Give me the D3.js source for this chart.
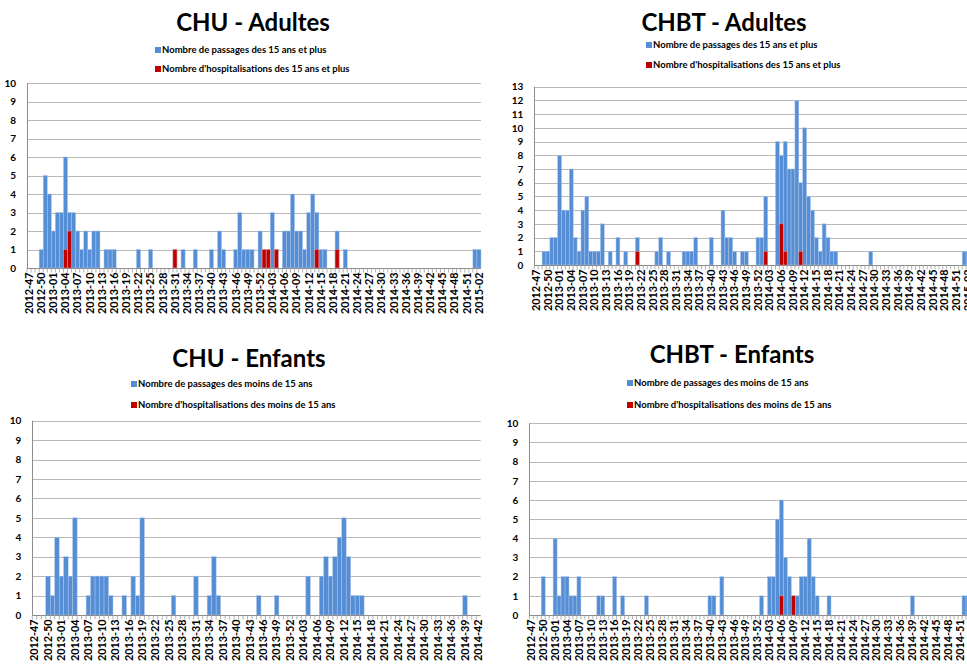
<!DOCTYPE html>
<html><head><meta charset="utf-8">
<script src="https://cdn.jsdelivr.net/npm/d3@7/dist/d3.min.js"></script>
<style>html,body{margin:0;padding:0;background:#fff;overflow:hidden}</style>
</head><body>
<svg id="c" width="967" height="666"></svg>
<script>
// ---------- DATA ----------
// Weekly categories (ISO year-week)
function weekRange(y0, w0, y1, w1) {
  const out = [];
  let y = y0, w = w0;
  while (y < y1 || (y === y1 && w <= w1)) {
    out.push(y + "-" + String(w).padStart(2, "0"));
    w++; if (w > 52) { w = 1; y++; }
  }
  return out;
}
const weeksAdultes = weekRange(2012, 47, 2015, 2);   // 112 weeks
const weeksCHUEnfants = weekRange(2012, 47, 2014, 42); // 100 weeks
const weeksCHBTEnfants = weekRange(2012, 47, 2015, 2); // 112 weeks

const legendAdultes = ["Nombre de passages des 15 ans et plus", "Nombre d'hospitalisations des 15 ans et plus"];
const legendEnfants = ["Nombre de passages des moins de 15 ans", "Nombre d'hospitalisations des moins de 15 ans"];

const chuAdultesPassages = [
  0,0,0,1,5,4,2,3,3,6,
  3,3,2,1,2,1,2,2,0,1,
  1,1,0,0,0,0,0,1,0,0,
  1,0,0,0,0,0,1,0,1,0,
  0,1,0,0,0,1,0,2,1,0,
  0,1,3,1,1,1,0,2,1,1,
  3,1,0,2,2,4,2,2,1,3,
  4,3,1,1,0,0,2,0,1,0,
  0,0,0,0,0,0,0,0,0,0,
  0,0,0,0,0,0,0,0,0,0,
  0,0,0,0,0,0,0,0,0,0,
  1,1];
const chuAdultesHosp = [
  0,0,0,0,0,0,0,0,0,1,
  2,0,0,0,0,0,0,0,0,0,
  0,0,0,0,0,0,0,0,0,0,
  0,0,0,0,0,0,1,0,0,0,
  0,0,0,0,0,0,0,0,0,0,
  0,0,0,0,0,0,0,0,1,1,
  0,1,0,0,0,0,0,0,0,0,
  0,1,0,0,0,0,1,0,0,0,
  0,0,0,0,0,0,0,0,0,0,
  0,0,0,0,0,0,0,0,0,0,
  0,0,0,0,0,0,0,0,0,0,
  0,0];

const chbtAdultesPassages = [
  0,0,1,1,2,2,8,4,4,7,
  2,1,4,5,1,1,1,3,0,1,
  0,2,0,1,0,0,2,0,0,0,
  0,1,2,0,1,0,0,0,1,1,
  1,2,0,0,0,2,0,0,4,2,
  2,1,0,1,1,0,0,2,2,5,
  0,0,9,8,9,7,7,12,6,10,
  5,4,2,1,3,2,1,1,0,0,
  0,0,0,0,0,0,1,0,0,0,
  0,0,0,0,0,0,0,0,0,0,
  0,0,0,0,0,0,0,0,0,0,
  1,1];
const chbtAdultesHosp = [
  0,0,0,0,0,0,0,0,0,0,
  0,0,0,0,0,0,0,0,0,0,
  0,0,0,0,0,0,1,0,0,0,
  0,0,0,0,0,0,0,0,0,0,
  0,0,0,0,0,0,0,0,0,0,
  0,0,0,0,0,0,0,0,0,1,
  0,0,0,3,1,0,0,0,1,0,
  0,0,0,0,0,0,0,0,0,0,
  0,0,0,0,0,0,0,0,0,0,
  0,0,0,0,0,0,0,0,0,0,
  0,0,0,0,0,0,0,0,0,0,
  0,0];

const chuEnfantsPassages = [
  0,0,0,2,1,4,2,3,2,5,
  0,0,1,2,2,2,2,1,0,0,
  1,0,2,1,5,0,0,0,0,0,
  0,1,0,0,0,0,2,0,0,1,
  3,1,0,0,0,0,0,0,0,0,
  1,0,0,0,1,0,0,0,0,0,
  0,2,0,0,2,3,2,3,4,5,
  3,1,1,1,0,0,0,0,0,0,
  0,0,0,0,0,0,0,0,0,0,
  0,0,0,0,0,0,1,0,0,0];
const chuEnfantsHosp = [
  0,0,0,0,0,0,0,0,0,0,
  0,0,0,0,0,0,0,0,0,0,
  0,0,0,0,0,0,0,0,0,0,
  0,0,0,0,0,0,0,0,0,0,
  0,0,0,0,0,0,0,0,0,0,
  0,0,0,0,0,0,0,0,0,0,
  0,0,0,0,0,0,0,0,0,0,
  0,0,0,0,0,0,0,0,0,0,
  0,0,0,0,0,0,0,0,0,0,
  0,0,0,0,0,0,0,0,0,0];

const chbtEnfantsPassages = [
  0,0,0,2,0,0,4,1,2,2,
  1,1,2,0,0,0,0,1,1,0,
  0,2,0,1,0,0,0,0,0,1,
  0,0,0,0,0,0,0,0,0,0,
  0,0,0,0,0,1,1,0,2,0,
  0,0,0,0,0,0,0,0,1,0,
  2,2,5,6,3,2,1,1,2,2,
  4,2,1,0,0,1,0,0,0,0,
  0,0,0,0,0,0,0,0,0,0,
  0,0,0,0,0,0,1,0,0,0,
  0,0,0,0,0,0,0,0,0,1,
  1,0];
const chbtEnfantsHosp = [
  0,0,0,0,0,0,0,0,0,0,
  0,0,0,0,0,0,0,0,0,0,
  0,0,0,0,0,0,0,0,0,0,
  0,0,0,0,0,0,0,0,0,0,
  0,0,0,0,0,0,0,0,0,0,
  0,0,0,0,0,0,0,0,0,0,
  0,0,0,1,0,0,1,0,0,0,
  0,0,0,0,0,0,0,0,0,0,
  0,0,0,0,0,0,0,0,0,0,
  0,0,0,0,0,0,0,0,0,0,
  0,0,0,0,0,0,0,0,0,0,
  0,0];

// ---------- LAYOUT ----------
const BLUE = "#558ed5", RED = "#c00000";
const FONT = "Lato, 'Open Sans', 'Liberation Sans', sans-serif";

const panels = [
  { title: "CHU - Adultes", legend: legendAdultes, cats: weeksAdultes,
    pass: chuAdultesPassages, hosp: chuAdultesHosp, ymax: 10,
    x0: 27, x1: 481, yBase: 268, yTop: 83,
    tx: 253, ty: 31, lx: 155, ly: [50, 69] },
  { title: "CHBT - Adultes", legend: legendAdultes, cats: weeksAdultes,
    pass: chbtAdultesPassages, hosp: chbtAdultesHosp, ymax: 13,
    x0: 534.3, x1: 534.3 + 3.89 * 112, yBase: 265, yTop: 86.7,
    tx: 724, ty: 31, lx: 646, ly: [45, 65] },
  { title: "CHU - Enfants", legend: legendEnfants, cats: weeksCHUEnfants,
    pass: chuEnfantsPassages, hosp: chuEnfantsHosp, ymax: 10,
    x0: 32.3, x1: 480.7, yBase: 615, yTop: 420.7,
    tx: 249, ty: 367, lx: 131, ly: [384, 405] },
  { title: "CHBT - Enfants", legend: legendEnfants, cats: weeksCHBTEnfants,
    pass: chbtEnfantsPassages, hosp: chbtEnfantsHosp, ymax: 10,
    x0: 529.3, x1: 529.3 + 3.97 * 112, yBase: 615, yTop: 423.3,
    tx: 732, ty: 363, lx: 627, ly: [383, 405] }
];

const svg = d3.select("#c");

panels.forEach(p => {
  const g = svg.append("g");
  const x = d3.scaleBand().domain(p.cats).range([p.x0, p.x1]).padding(0);
  const y = d3.scaleLinear().domain([0, p.ymax]).range([p.yBase, p.yTop]);

  // gridlines
  g.append("g").selectAll("line").data(d3.range(1, p.ymax + 1)).join("line")
    .attr("x1", p.x0).attr("x2", p.x1)
    .attr("y1", d => Math.round(y(d)) + 0.5).attr("y2", d => Math.round(y(d)) + 0.5)
    .attr("stroke", "#b8b8b8").attr("stroke-width", 1);

  // bars: passages then hospitalisations in front
  const data = p.cats.map((c, i) => ({ c, v: p.pass[i], h: p.hosp[i] }));
  g.append("g").selectAll("rect").data(data.filter(d => d.v > 0)).join("rect")
    .attr("x", d => x(d.c)).attr("width", x.bandwidth())
    .attr("y", d => y(d.v)).attr("height", d => y(0) - y(d.v))
    .attr("fill", BLUE).attr("stroke", "#a9c4ea").attr("stroke-width", 0.5);
  g.append("g").selectAll("rect").data(data.filter(d => d.h > 0)).join("rect")
    .attr("x", d => x(d.c)).attr("width", x.bandwidth())
    .attr("y", d => y(d.h)).attr("height", d => y(0) - y(d.h))
    .attr("fill", RED).attr("stroke", "#e8a0a0").attr("stroke-width", 0.5);

  // axes lines
  const yb = Math.round(p.yBase) + 0.5;
  g.append("line").attr("x1", p.x0).attr("x2", p.x1).attr("y1", yb).attr("y2", yb)
    .attr("stroke", "#8c8c8c");
  const xa = Math.round(p.x0) + 0.5;
  g.append("line").attr("x1", xa).attr("x2", xa).attr("y1", p.yTop).attr("y2", yb)
    .attr("stroke", "#8c8c8c");

  // minor ticks at each category boundary
  g.append("g").selectAll("line").data(p.cats).join("line")
    .attr("x1", d => x(d)).attr("x2", d => x(d))
    .attr("y1", yb).attr("y2", yb + 4)
    .attr("stroke", "#a0a0a0").attr("stroke-width", 0.8);

  // y axis labels
  const yAxis = d3.axisLeft(y).tickValues(d3.range(0, p.ymax + 1)).tickSize(0).tickPadding(11)
    .tickFormat(d3.format("d"));
  const ya = g.append("g").attr("transform", `translate(${p.x0},0)`).call(yAxis);
  ya.select(".domain").remove();
  ya.selectAll("text").attr("font-family", FONT).attr("font-weight", "bold")
    .attr("font-size", 10).attr("fill", "#000");

  // x tick labels, every 3rd week, rotated
  const tickCats = p.cats.filter((c, i) => i % 3 === 0);
  g.append("g").selectAll("text").data(tickCats).join("text")
    .attr("transform", d => `translate(${x(d) + x.bandwidth() / 2 + 3.8},${yb + 4}) rotate(-90)`)
    .attr("text-anchor", "end")
    .attr("font-family", FONT).attr("font-weight", "bold").attr("font-size", 10.8)
    .attr("fill", "#000")
    .text(d => d);

  // title
  g.append("text").attr("x", p.tx).attr("y", p.ty).attr("text-anchor", "middle")
    .attr("font-family", FONT).attr("font-weight", "bold").attr("font-size", 24)
    .attr("fill", "#000").text(p.title);

  // legend
  [BLUE, RED].forEach((col, k) => {
    g.append("rect").attr("x", p.lx).attr("y", p.ly[k] - 3).attr("width", 6).attr("height", 6).attr("fill", col);
    g.append("text").attr("x", p.lx + 7).attr("y", p.ly[k]).attr("dy", "0.35em")
      .attr("font-family", FONT).attr("font-weight", "bold").attr("font-size", 9.5)
      .attr("fill", "#000").text(p.legend[k]);
  });
});
</script>
</body></html>
